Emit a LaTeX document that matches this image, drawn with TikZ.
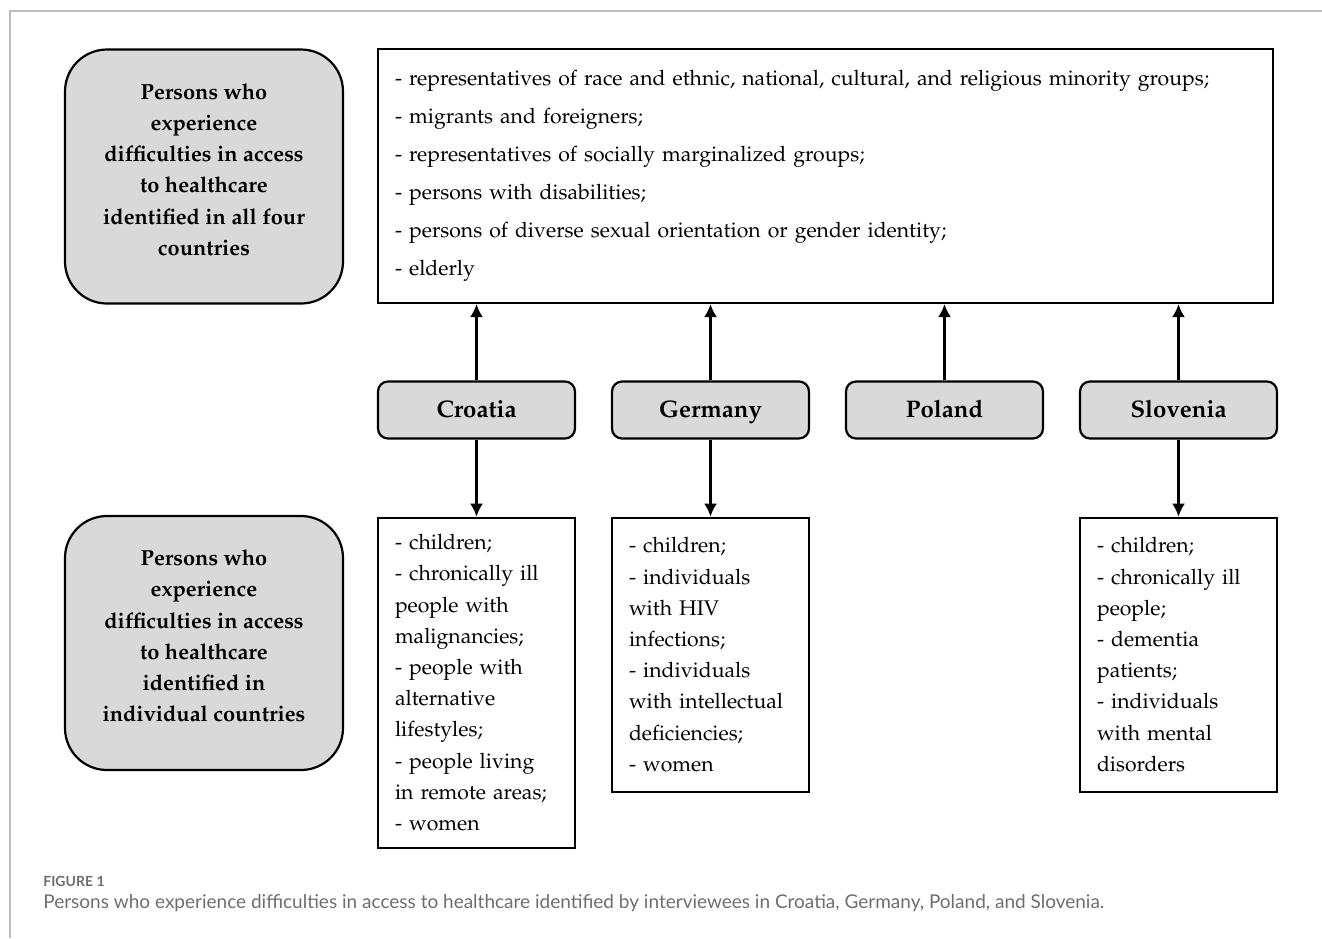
\documentclass[tikz,border=0pt]{standalone}
\usepackage[T1]{fontenc}
\usepackage{fontspec}
\usetikzlibrary{arrows.meta,positioning}
\newfontfamily\capfont{Lato}
\newcommand\palfont{\fontencoding{T1}\fontfamily{ppl}\selectfont}
\definecolor{boxgray}{HTML}{D9D9D9}
\definecolor{capgray}{HTML}{6D6E71}
\definecolor{framegray}{HTML}{BDBDBD}
\tikzstyle{arrow} = [line width=1.05pt,->,>={Latex[length=6.5pt,width=6.5pt]},draw=black]
\tikzstyle{groupbox} = [draw,line width=1.1pt,fill=boxgray,rounded corners=21pt,minimum width=139pt,minimum height=127pt]
\tikzstyle{grouptext} = [align=center,font=\palfont\bfseries\fontsize{10.9}{15.6}\selectfont]
\tikzstyle{country} = [draw,line width=1.1pt,fill=boxgray,rounded corners=5pt,minimum width=98.5pt,minimum height=28.5pt,text height=9.5pt,text depth=2.5pt,font=\palfont\bfseries\fontsize{12}{14}\selectfont]
\tikzstyle{listbox} = [draw,line width=1.1pt,inner xsep=8.5pt,text width=81.5pt,minimum width=98.5pt,align=left,font=\palfont\fontsize{10.6}{15.6}\selectfont]

\begin{document}
\begin{tikzpicture}[x=0.5pt,y=-0.5pt,node distance=117pt]
\useasboundingbox (0,0) rectangle (1322,938);
\draw[framegray,line width=0.8pt] (10,938) -- (10,11) -- (1322,11);

\node (allfour) [groupbox] at (204,176.5) {};
\node (allfourtext) [grouptext] at ([yshift=3.5pt]allfour.center) {Persons who\\experience\\difficulties in access\\to healthcare\\identified in all four\\countries};
\node (common) [listbox,text width=430.5pt,minimum width=447.5pt,minimum height=127pt,font=\palfont\fontsize{10.6}{19}\selectfont] at (825.5,176)
  {- representatives of race and ethnic, national, cultural, and religious minority groups;\\
   - migrants and foreigners;\\
   - representatives of socially marginalized groups;\\
   - persons with disabilities;\\
   - persons of diverse sexual orientation or gender identity;\\
   - elderly};

\node (croatia) [country] at (476.5,410) {Croatia};
\node (germany) [country, right of=croatia] {Germany};
\node (poland) [country, right of=germany] {Poland};
\node (slovenia) [country, right of=poland] {Slovenia};

\node (individual) [groupbox] at (204,643) {};
\node (individualtext) [grouptext] at ([yshift=3.5pt]individual.center) {Persons who\\experience\\difficulties in access\\to healthcare\\identified in\\individual countries};
\node (crolist) [listbox, minimum height=165pt, below=38.5pt of croatia]
  {- children;\\- chronically ill\\people with\\malignancies;\\- people with\\alternative\\lifestyles;\\- people living\\in remote areas;\\- women};
\node (gerlist) [listbox, minimum height=137pt, below=38.5pt of germany]
  {- children;\\- individuals\\with HIV\\infections;\\- individuals\\with intellectual\\deficiencies;\\- women};
\node (slolist) [listbox, minimum height=137pt, below=38.5pt of slovenia]
  {- children;\\- chronically ill\\people;\\- dementia\\patients;\\- individuals\\with mental\\disorders};

\draw[arrow] (croatia) -- (croatia |- common.south);
\draw[arrow] (germany) -- (germany |- common.south);
\draw[arrow] (poland) -- (poland |- common.south);
\draw[arrow] (slovenia) -- (slovenia |- common.south);
\draw[arrow] (croatia) -- (crolist);
\draw[arrow] (germany) -- (gerlist);
\draw[arrow] (slovenia) -- (slolist);

\node (figlabel) [anchor=base west,inner sep=0pt,text=capgray,font=\capfont\bfseries\fontsize{7}{8}\selectfont] at (43,886) {FIGURE 1};
\node (caption) [anchor=base west,inner sep=0pt,text=capgray,font=\capfont\fontsize{9.5}{11}\selectfont] at (43,908) {Persons who experience difficulties in access to healthcare identified by interviewees in Croatia, Germany, Poland, and Slovenia.};
\end{tikzpicture}
\end{document}
